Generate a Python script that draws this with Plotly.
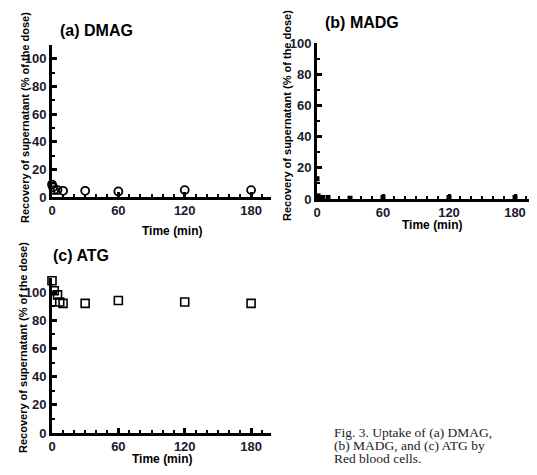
import plotly.graph_objects as go

# The page body has an 8px default margin; lay out in window pixels and offset.
OFF = 8
W, H = 537 - OFF, 475 - OFF

# Data
time_a = [0, 1, 2, 5, 10, 30, 60, 120, 180]
dmag = [9, 7, 5, 5, 4.5, 4.5, 4, 5, 5]
time_b = [0, 1, 2, 5, 10, 30, 60, 120, 180]
madg = [13, 2, 1, 1, 1, 0.5, 1, 1, 1]
time_c = [0, 2, 5, 7, 10, 30, 60, 120, 180]
atg = [108, 101, 98, 93, 92, 92, 94, 93, 92]

x_ticks = [0, 60, 120, 180]
y_ticks = [0, 20, 40, 60, 80, 100]
panel_titles = ["(a) DMAG", "(b) MADG", "(c) ATG"]
y_title = "Recovery of supernatant (% of the dose)"
x_title = "Time (min)"
caption = ["Fig. 3. Uptake of (a) DMAG,", "(b) MADG, and (c) ATG by", "Red blood cells."]

def px(x):
    return (x - OFF) / W

def py(y):
    return 1 - (y - OFF) / H

fig = go.Figure()

fig.add_trace(go.Scatter(x=time_a, y=dmag, mode="markers", xaxis="x", yaxis="y",
                         marker=dict(symbol="circle-open", size=8, color="black",
                                     line=dict(width=1.8, color="black")),
                         cliponaxis=False, showlegend=False))
fig.add_trace(go.Scatter(x=time_b, y=madg, mode="markers", xaxis="x2", yaxis="y2",
                         marker=dict(symbol="square", size=5, color="black"),
                         cliponaxis=False, showlegend=False))
fig.add_trace(go.Scatter(x=time_c, y=atg, mode="markers", xaxis="x3", yaxis="y3",
                         marker=dict(symbol="square-open", size=8, color="black",
                                     line=dict(width=1.6, color="black")),
                         cliponaxis=False, showlegend=False))

tickfont = dict(family="Liberation Sans, Arial", size=13, color="#1a1a2e", weight="bold")

def xaxis(domain, rng, anchor):
    return dict(domain=domain, range=rng, anchor=anchor, showline=True, linewidth=3,
                linecolor="black", showgrid=False, zeroline=False, automargin=False,
                tickmode="array", tickvals=x_ticks, ticks="inside", ticklen=5,
                tickwidth=3, tickcolor="black", tickfont=tickfont,
                ticklabelstandoff=-1,
                minor=dict(dtick=10, tick0=0, ticks="inside", ticklen=3, tickwidth=2,
                           tickcolor="black", showgrid=False))

def yaxis(domain, rng, anchor):
    return dict(domain=domain, range=rng, anchor=anchor, showline=True, linewidth=3,
                linecolor="black", showgrid=False, zeroline=False, automargin=False,
                tickmode="array", tickvals=y_ticks, ticks="inside", ticklen=5,
                tickwidth=3, tickcolor="black", tickfont=tickfont,
                minor=dict(dtick=10, tick0=0, ticks="inside", ticklen=3, tickwidth=2,
                           tickcolor="black", showgrid=False))

fig.update_layout(
    width=W, height=H,
    margin=dict(l=0, r=0, t=0, b=0),
    paper_bgcolor="white", plot_bgcolor="white",
    xaxis=xaxis([px(52), px(271)], [0, 198], "y"),
    yaxis=yaxis([py(197), py(45)], [0, 110], "x"),
    xaxis2=xaxis([px(317), px(537)], [0, 200], "y2"),
    yaxis2=yaxis([py(199), py(43)], [0, 100], "x2"),
    xaxis3=xaxis([px(52), px(271)], [0, 198], "y3"),
    yaxis3=yaxis([py(433), py(278)], [0, 110], "x3"),
)

ann = []
titlefont = dict(family="Liberation Sans, Arial", size=16, color="black", weight="bold")
labfont = dict(family="Liberation Sans, Arial", size=11, color="black", weight="bold")
xlabfont = dict(family="Liberation Sans, Arial", size=12, color="black", weight="bold")

for t, (x, y) in zip(panel_titles, [(58, 30), (323, 22), (51, 255)]):
    ann.append(dict(text=t, x=px(x), y=py(y), xref="paper", yref="paper",
                    xanchor="left", yanchor="middle", showarrow=False, font=titlefont))

for (x, y) in [(25, 118), (287, 116), (23, 348)]:
    ann.append(dict(text=y_title, x=px(x), y=py(y), xref="paper", yref="paper",
                    xanchor="center", yanchor="middle", textangle=-90,
                    showarrow=False, font=labfont))

for (x, y) in [(172, 231), (432, 225), (162, 459)]:
    ann.append(dict(text=x_title, x=px(x), y=py(y), xref="paper", yref="paper",
                    xanchor="center", yanchor="middle", showarrow=False, font=xlabfont))

capfont = dict(family="Liberation Serif, Times New Roman", size=13.5, color="#222")
for line, y in zip(caption, [432, 445, 458]):
    ann.append(dict(text=line, x=px(332), y=py(y), xref="paper", yref="paper",
                    xanchor="left", yanchor="middle", showarrow=False, font=capfont))

fig.update_layout(annotations=ann)
fig.write_html("out.html")
